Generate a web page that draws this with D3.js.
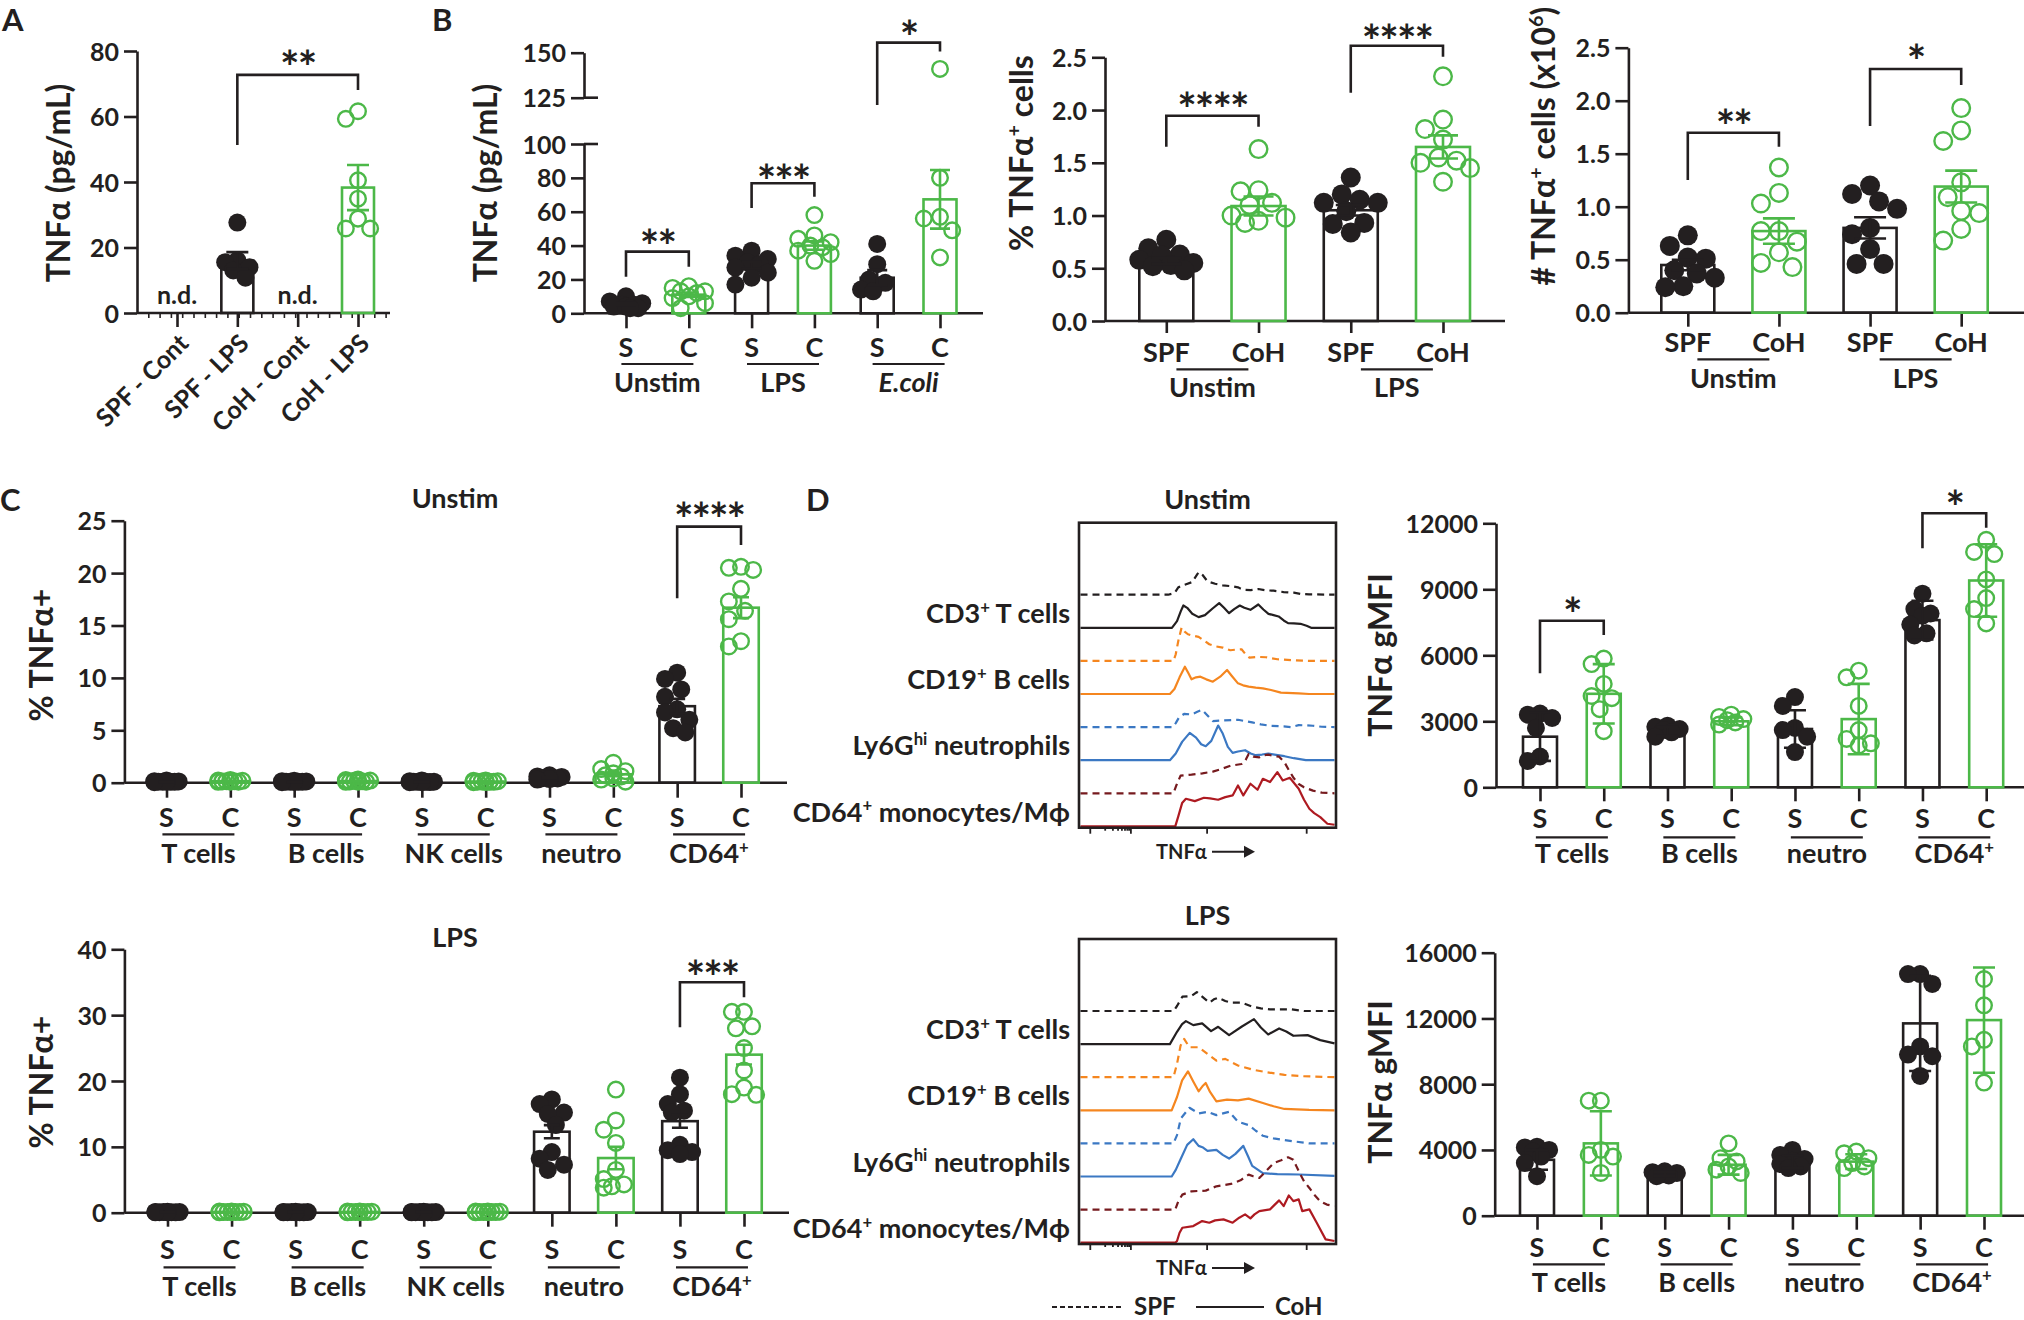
<!DOCTYPE html>
<html>
<head>
<meta charset="utf-8">
<script src="https://cdn.jsdelivr.net/npm/d3@7"></script>
<style>
  html, body { margin:0; padding:0; background:#fff; }
  svg { display:block; }
  text { font-family: Lato, "Liberation Sans", Arial, sans-serif; font-weight:700; fill:#231f20; }
</style>
</head>
<body>
<svg id="fig" width="2024" height="1320" viewBox="0 0 2024 1320"></svg>
<script>
// ================= DATA =================
// Panel A : TNFa (pg/mL)
const aCategories = ["SPF - Cont", "SPF - LPS", "CoH - Cont", "CoH - LPS"];
const aKind = ["S", "S", "C", "C"];
const aPoints = [[], [27.6, 16.1, 15.5, 14.0, 13.0, 10.8], [], [61.6, 59.3, 40.5, 34.9, 28.8, 25.8, 25.8]];
const aMean = [null, 16.0, null, 38.3];
const aErr = [null, 2.6, null, 6.9];
const aNotes = ["n.d.", "", "n.d.", ""];
const aTicks = [0, 20, 40, 60, 80];

// Panel B1 : TNFa (pg/mL), broken axis
const b1Labels = ["S", "C", "S", "C", "S", "C"];
const b1Groups = ["Unstim", "LPS", "E.coli"];
const b1Points = [
  [10, 7, 6, 5, 5, 4, 4, 3, 3],
  [16, 15, 13, 13, 12, 10, 9, 6, 3],
  [37, 34, 32, 30, 29, 27, 24, 21, 17],
  [58, 46, 44, 42, 40, 39, 37, 35, 31],
  [41, 29, 20, 18, 14, 13],
  [141, 80, 57, 56, 49, 33]
];
const b1Mean = [5.5, 11, 28.5, 40, 21, 67.3];
const b1Err = [0.8, 1.3, 2.0, 2.5, 4.5, 17.3];
const b1TicksLow = [0, 20, 40, 60, 80, 100];
const b1TicksHigh = [125, 150];

// Panel B2 : % TNFa+ cells
const b2Labels = ["SPF", "CoH", "SPF", "CoH"];
const b2Groups = ["Unstim", "LPS"];
const b2Points = [
  [0.77, 0.69, 0.63, 0.62, 0.58, 0.55, 0.53, 0.52, 0.48],
  [1.63, 1.24, 1.23, 1.12, 1.10, 1.00, 0.98, 0.95, 0.93],
  [1.36, 1.20, 1.15, 1.12, 1.12, 1.04, 0.93, 0.92, 0.84],
  [2.32, 1.91, 1.82, 1.72, 1.55, 1.52, 1.50, 1.45, 1.32]
];
const b2Mean = [0.57, 1.09, 1.05, 1.65];
const b2Err = [0.03, 0.09, 0.05, 0.11];
const b2Ticks = [0, 0.5, 1.0, 1.5, 2.0, 2.5];

// Panel B3 : # TNFa+ cells (x10^6)
const b3Labels = ["SPF", "CoH", "SPF", "CoH"];
const b3Groups = ["Unstim", "LPS"];
const b3Points = [
  [0.73, 0.63, 0.52, 0.51, 0.40, 0.37, 0.33, 0.25, 0.24],
  [1.37, 1.13, 1.03, 0.77, 0.77, 0.67, 0.57, 0.47, 0.43],
  [1.20, 1.12, 1.05, 0.98, 0.80, 0.74, 0.60, 0.46, 0.46],
  [1.93, 1.72, 1.62, 1.23, 1.09, 0.96, 0.94, 0.79, 0.68]
];
const b3Mean = [0.45, 0.77, 0.80, 1.19];
const b3Err = [0.05, 0.12, 0.10, 0.15];
const b3Ticks = [0, 0.5, 1.0, 1.5, 2.0, 2.5];

// Panel C : % TNFa+ by cell type
const cLabels = ["S", "C", "S", "C", "S", "C", "S", "C", "S", "C"];
const cGroups = ["T cells", "B cells", "NK cells", "neutro", "CD64+"];
const cUnPoints = [
  [0.2, 0.15, 0.12, 0.1, 0.1, 0.1, 0.08, 0.08, 0.05],
  [0.25, 0.2, 0.18, 0.15, 0.15, 0.12, 0.1, 0.1, 0.08],
  [0.18, 0.15, 0.12, 0.1, 0.1, 0.09, 0.08, 0.07, 0.05],
  [0.3, 0.25, 0.2, 0.18, 0.15, 0.12, 0.1, 0.1, 0.08],
  [0.2, 0.15, 0.1, 0.1, 0.08, 0.08, 0.06, 0.05, 0.05],
  [0.2, 0.18, 0.15, 0.12, 0.1, 0.1, 0.08, 0.06, 0.05],
  [0.7, 0.6, 0.55, 0.5, 0.45, 0.4, 0.4, 0.35, 0.3],
  [1.9, 1.3, 1.1, 0.9, 0.7, 0.6, 0.4, 0.3, 0.1],
  [10.5, 9.9, 8.9, 8.2, 7.0, 6.7, 6.0, 5.2, 4.8],
  [20.6, 20.5, 20.3, 18.5, 17.3, 16.4, 15.6, 13.5, 13.0]
];
const cUnMean = [0.1, 0.15, 0.1, 0.16, 0.1, 0.11, 0.47, 0.8, 7.3, 16.7];
const cUnErr = [0.02, 0.02, 0.02, 0.02, 0.02, 0.02, 0.04, 0.18, 0.7, 1.0];
const cUnTicks = [0, 5, 10, 15, 20, 25];

const cLpPoints = [
  [0.15, 0.12, 0.1, 0.1, 0.08, 0.08, 0.06, 0.05, 0.05],
  [0.2, 0.18, 0.15, 0.12, 0.12, 0.1, 0.1, 0.08, 0.05],
  [0.15, 0.12, 0.1, 0.1, 0.08, 0.08, 0.06, 0.05, 0.05],
  [0.2, 0.18, 0.15, 0.12, 0.12, 0.1, 0.1, 0.08, 0.05],
  [0.15, 0.12, 0.1, 0.1, 0.08, 0.08, 0.06, 0.05, 0.05],
  [0.2, 0.18, 0.15, 0.12, 0.12, 0.1, 0.1, 0.08, 0.05],
  [17.2, 16.5, 15.2, 15.0, 13.3, 9.2, 8.2, 7.3, 6.5],
  [18.7, 14.0, 12.6, 10.6, 6.5, 5.1, 4.3, 4.0, 3.8],
  [20.5, 18.0, 16.5, 15.5, 15.2, 10.3, 9.5, 9.2, 8.9],
  [30.5, 30.5, 28.3, 28.0, 25.0, 21.6, 19.0, 18.0, 17.9]
];
const cLpMean = [0.09, 0.12, 0.09, 0.12, 0.09, 0.12, 12.3, 8.3, 13.9, 24.0];
const cLpErr = [0.01, 0.02, 0.01, 0.02, 0.01, 0.02, 1.0, 1.7, 1.0, 1.5];
const cLpTicks = [0, 10, 20, 30, 40];

// Panel D : TNFa gMFI
const dLabels = ["S", "C", "S", "C", "S", "C", "S", "C"];
const dGroups = ["T cells", "B cells", "neutro", "CD64+"];
const dUnPoints = [
  [3350, 3300, 3150, 2700, 1400, 1200],
  [5850, 5600, 4700, 4150, 4050, 3550, 2550],
  [2800, 2750, 2650, 2600, 2500, 2300],
  [3300, 3200, 3100, 3050, 2950, 2850],
  [4100, 3700, 2700, 2600, 2300, 1600],
  [5300, 5000, 3700, 2600, 2200, 2000, 1900],
  [8800, 8100, 7900, 7800, 7400, 7000, 6900],
  [11250, 10700, 10600, 9450, 8600, 8100, 7450]
];
const dUnMean = [2300, 4250, 2550, 3000, 2650, 3100, 7600, 9400];
const dUnErr = [1100, 1350, 200, 180, 850, 1600, 880, 1650];
const dUnTicks = [0, 3000, 6000, 9000, 12000];

const dLpPoints = [
  [4200, 4150, 4000, 3900, 3600, 3200, 2400],
  [7000, 7000, 4000, 3700, 3600, 2600],
  [2700, 2650, 2600, 2500, 2450, 2400],
  [4400, 3500, 3300, 3000, 2800, 2600],
  [4000, 3700, 3450, 3350, 3150, 3000, 2900],
  [3900, 3800, 3500, 3200, 3000, 2900],
  [14700, 14700, 14100, 10300, 9800, 9700, 8500],
  [14400, 12800, 10700, 10300, 8100]
];
const dLpMean = [3400, 4400, 2530, 3100, 3280, 3290, 11700, 11900];
const dLpErr = [600, 1950, 120, 600, 380, 450, 2900, 3200];
const dLpTicks = [0, 4000, 8000, 12000, 16000];

// Histograms (x: TNFa channel 0-100, y: relative count)
const histRows = ["CD3+ T cells", "CD19+ B cells", "Ly6Ghi neutrophils", "CD64+ monocytes/Mϕ"];
const hUnT_S = [[0,0],[34.5,0],[37,5],[38.5,22],[41,30],[44,38],[46,62],[46.8,68],[48,60],[50,40],[53,33],[56,28],[60,25],[62,22],[64,15],[67,14],[70,17],[73,13],[76,12],[80,8],[84,6],[87,2],[90,1],[100,0]];
const hUnT_C = [[0,0],[36,0],[38,20],[39.5,50],[40.5,67],[42,60],[44,42],[46.5,32],[49,38],[52,58],[54.6,74],[56.5,60],[58.5,44],[60.5,56],[62.7,67],[64.5,60],[66.9,54],[70,70],[72,55],[74,42],[76,38],[78,34],[80,22],[81.7,14],[84,13],[86.6,12],[89,6],[90.8,0],[100,0]];
const hUnB_S = [[0,0],[36.6,0],[37.5,20],[38.5,60],[39.8,100],[41,88],[42.3,80],[44,76],[46.5,72],[48.5,62],[50.7,50],[53,44],[56,40],[59,32],[61.5,34],[63.4,35],[65,20],[66.5,10],[70,12],[73,11],[77.5,5],[83,2],[90,0],[100,0]];
const hUnB_C = [[0,0],[35.2,0],[37,15],[39,50],[41.1,82],[42.5,62],[43.7,44],[45.5,50],[47.2,52],[49.5,44],[52.1,37],[55,52],[57.7,72],[59.5,55],[62,32],[64,26],[66.2,22],[69,19],[71.8,17],[75,12],[78.9,4],[85.9,2],[90,0],[100,0]];
const hUnN_S = [[0,0],[36.3,0],[37.5,12],[38.7,28],[40.8,40],[43.7,38],[46,46],[47.9,52],[50,35],[52.1,18],[56.3,20],[62,22],[67.6,14],[71,8],[74.6,4],[80,2],[83,0],[85.9,6],[89,5],[91.5,4],[95,1],[100,0]];
const hUnN_C = [[0,0],[35.2,0],[37.5,20],[40,55],[43,82],[45.5,68],[47.5,48],[49.3,42],[51.5,58],[54.2,104],[56,80],[58,40],[59.9,22],[62,26],[64.8,30],[67,20],[69,15],[71.5,17],[73.9,20],[77,16],[80.3,12],[84,6],[88.7,0],[100,0]];
const hUnM_S = [[0,0],[36.6,0],[37.8,25],[39.4,53],[43.7,56],[48,60],[52.1,65],[55,72],[59.2,83],[63.4,88],[65,100],[66.2,118],[68,110],[70.4,108],[72,114],[74,116],[76,112],[78.2,110],[80.3,93],[82,70],[84,45],[85.9,28],[88,18],[91.5,8],[95,2],[100,0]];
const hUnM_C = [[0,0],[37.3,0],[38.5,30],[40,70],[41.5,83],[45,76],[48.6,86],[51,84],[54.2,80],[57,88],[59.9,93],[62,123],[64.1,93],[66.9,128],[69.7,110],[71.8,143],[74.6,133],[77.5,163],[79.6,138],[82.4,146],[85.9,113],[88,80],[90.1,53],[92,40],[94.4,28],[97.2,8],[100,5]];
const hLpT_S = [[0,0],[36.6,0],[38,15],[40.1,43],[43.7,45],[45.8,57],[47.9,43],[50.7,25],[52.5,35],[54.2,40],[57,30],[59.2,25],[63.4,25],[67.6,13],[71,8],[74.6,5],[80,5],[83,5],[88,0],[100,0]];
const hLpT_C = [[0,0],[35.2,0],[38,37],[40,60],[41.5,69],[44.4,57],[47.9,62],[51.4,39],[54.2,52],[58.5,27],[63.4,52],[68.3,75],[71,50],[73.9,29],[78.2,47],[81,38],[83.8,25],[89.4,27],[94.4,12],[100,2]];
const hLpB_S = [[0,0],[36.6,0],[38,40],[39.4,95],[40.8,115],[42.9,90],[46.5,90],[50,70],[53.5,50],[57,55],[62,35],[67.6,23],[73.2,15],[80.3,7],[87.3,3],[100,0]];
const hLpB_C = [[0,0],[35.9,0],[38,40],[40,90],[42.3,117],[44.5,85],[46.5,57],[48,72],[49.3,82],[51,55],[53.5,27],[57.7,32],[62,30],[66.2,35],[71.8,22],[76,12],[80.3,4],[90,1],[100,0]];
const hLpN_S = [[0,0],[36.6,0],[38,25],[39.5,75],[42.9,107],[46.5,90],[50,95],[53.5,85],[58.5,95],[62,65],[66.2,55],[69,38],[71.8,23],[76,15],[80.3,10],[85,5],[90.1,0],[100,0]];
const hLpN_C = [[0,0],[35.9,0],[37.5,20],[39.4,52],[42,95],[44.4,112],[46.5,92],[48,88],[50,77],[53.5,80],[56,65],[58.5,54],[61,68],[64.1,92],[66,60],[67.6,32],[71.8,10],[77.5,7],[85.9,6],[100,2]];
const hLpM_S = [[0,0],[37.3,0],[38.5,25],[40.1,45],[43.7,55],[49.3,57],[53.5,70],[59.2,77],[63,88],[66.2,105],[68,100],[70.4,95],[73,115],[76.1,140],[79,148],[81.7,157],[83.8,150],[85,130],[86.6,105],[88,85],[90.1,65],[92,45],[94.4,25],[97,15],[100,10]];
const hLpM_C = [[0,0],[37.3,0],[38,5],[39,30],[40.1,45],[44.4,50],[47.9,65],[50.7,60],[53,67],[56.3,70],[59.9,60],[62.5,75],[64.8,85],[66.9,73],[68.5,85],[70.4,95],[74.6,100],[78.2,127],[80,110],[82,142],[83.8,125],[85.9,130],[87.3,95],[90.1,100],[93,60],[96.5,10],[100,5]];

// ================= DRAWING =================
const svg = d3.select("#fig");
const BLACK = "#231f20", GREEN = "#4cb848";
const ORANGE = "#f5861f", BLUE = "#3b78c3", MAROON = "#761a1e", CRIMSON = "#ae1a21";
const SW = 2.6;

function rich(g, parts, fs, attrs) {
  const t = g.append("text").attr("font-size", fs);
  Object.entries(attrs).forEach(([k, v]) => t.attr(k, v));
  let sup = false;
  parts.forEach(([s, isSup]) => {
    const sp = t.append("tspan").text(s);
    if (isSup) { sp.attr("font-size", fs * 0.62); if (!sup) sp.attr("dy", -fs * 0.38); }
    else if (sup) sp.attr("dy", fs * 0.38);
    sup = !!isSup;
  });
  return t;
}
function splitSup(label) {
  if (label.endsWith("+")) return [[label.slice(0, -1)], ["+", true]];
  return [[label]];
}

// GraphPad-like scatter: overlap-free where possible, otherwise spread evenly
function swarm(vals, y, r, maxOff) {
  const step = Math.max(2, r * 0.45);
  const items = vals.map(v => ({ v, py: y(v), dx: 0 }));
  const order = items.slice().sort((a, b) => a.py - b.py);
  const cands = [0];
  for (let k = 1; k * step <= maxOff + 0.01; k++) cands.push(-k * step, k * step);
  const minD = 2 * r * 0.9;
  const placed = [];
  order.forEach(p => {
    let chosen = null, best = 0, bestScore = Infinity;
    for (const c of cands) {
      let mx = 0;
      placed.forEach(q => { const d = Math.hypot(c - q.dx, p.py - q.py); if (d < minD) mx = Math.max(mx, minD - d); });
      if (mx === 0) { chosen = c; break; }
      const score = mx + Math.abs(c) * 0.001;
      if (score < bestScore) { bestScore = score; best = c; }
    }
    p.dx = chosen !== null ? chosen : best;
    placed.push(p);
  });
  return items;
}

function yAxis(g, scale, ticks, x, fmt) {
  const a = g.append("g").attr("transform", `translate(${x},0)`)
    .call(d3.axisLeft(scale).tickValues(ticks).tickSize(13).tickPadding(5).tickSizeOuter(0).tickFormat(fmt));
  a.select(".domain").attr("stroke", BLACK).attr("stroke-width", SW);
  a.selectAll(".tick line").attr("stroke", BLACK).attr("stroke-width", SW);
  a.selectAll(".tick text").attr("font-size", 25).attr("dy", "0.36em");
  return a;
}

function barPanel(o) {
  const g = svg.append("g");
  const y = o.y, y0 = y(0);
  const x = d3.scalePoint().domain(d3.range(o.n)).range(o.xRange);
  const col = i => o.kind[i] === "S" ? BLACK : GREEN;
  // axes
  o.drawY(g);
  g.append("line").attr("x1", o.axisX).attr("x2", o.axisEnd).attr("y1", y0).attr("y2", y0)
    .attr("stroke", BLACK).attr("stroke-width", SW);
  const xa = g.append("g").attr("transform", `translate(0,${y0})`)
    .call(d3.axisBottom(x).tickSize(o.tickLen).tickSizeOuter(0).tickFormat(""));
  xa.select(".domain").remove();
  xa.selectAll(".tick line").attr("stroke", BLACK).attr("stroke-width", SW);
  if (o.minorStep) {
    const vals = [];
    for (let v = o.axisX + o.minorStep; v < o.axisEnd - 2; v += o.minorStep) vals.push(v);
    const lin = d3.scaleLinear().domain([0, 1]).range([0, 1]);
    const mg = g.append("g").attr("transform", `translate(0,${y0})`)
      .call(d3.axisBottom(d3.scaleIdentity()).tickValues(vals).tickSize(5).tickSizeOuter(0).tickFormat(""));
    mg.select(".domain").remove();
    mg.selectAll(".tick line").attr("stroke", BLACK).attr("stroke-width", 1.6);
  }
  // bars
  const withBar = d3.range(o.n).filter(i => o.mean[i] != null);
  g.selectAll(null).data(withBar).join("rect")
    .attr("x", i => x(i) - o.barW / 2).attr("y", i => y(o.mean[i]))
    .attr("width", o.barW).attr("height", i => y0 - y(o.mean[i]))
    .attr("fill", "none").attr("stroke", col).attr("stroke-width", SW);
  // points
  d3.range(o.n).forEach(i => {
    const pts = swarm(o.points[i], y, o.r, o.maxOff);
    const S = o.kind[i] === "S";
    g.selectAll(null).data(pts).join("circle")
      .attr("cx", p => x(i) + p.dx).attr("cy", p => p.py)
      .attr("r", S ? o.r : o.r - 1.2)
      .attr("fill", S ? BLACK : "none")
      .attr("stroke", S ? "none" : GREEN).attr("stroke-width", 2.4);
  });
  // error bars
  withBar.forEach(i => {
    const cx = x(i), yt = y(o.mean[i] + o.err[i]), yb = y(o.mean[i] - o.err[i]);
    const p = d3.path();
    p.moveTo(cx, yt); p.lineTo(cx, yb);
    p.moveTo(cx - o.cap, yt); p.lineTo(cx + o.cap, yt);
    p.moveTo(cx - o.cap, yb); p.lineTo(cx + o.cap, yb);
    g.append("path").attr("d", p.toString()).attr("fill", "none").attr("stroke", col(i)).attr("stroke-width", SW);
  });
  // category labels
  o.labels.forEach((lab, i) => {
    if (o.rotate) {
      g.append("text").attr("font-size", 25).attr("text-anchor", "end")
        .attr("transform", `translate(${x(i) + 13},${o.labelBase}) rotate(-45)`).text(lab);
    } else {
      g.append("text").attr("font-size", 27).attr("text-anchor", "middle")
        .attr("x", x(i)).attr("y", o.labelBase).text(lab);
    }
  });
  if (o.notes) o.notes.forEach((s, i) => {
    if (s) g.append("text").attr("font-size", 25).attr("text-anchor", "middle").attr("x", x(i)).attr("y", o.noteBase).text(s);
  });
  // groups
  if (o.groups) o.groups.forEach((lab, k) => {
    const c = (x(2 * k) + x(2 * k + 1)) / 2;
    g.append("line").attr("x1", c - 36).attr("x2", c + 36).attr("y1", o.ulY).attr("y2", o.ulY)
      .attr("stroke", BLACK).attr("stroke-width", 2.2);
    const t = rich(g, splitSup(lab), 27, { x: c, y: o.groupBase, "text-anchor": "middle" });
    if (o.italicGroups && o.italicGroups.includes(lab)) t.attr("font-style", "italic");
  });
  // significance
  (o.sig || []).forEach(s => {
    const xa_ = x(s.a), xb_ = x(s.b);
    const p = d3.path();
    p.moveTo(xa_, y(s.left)); p.lineTo(xa_, y(s.top)); p.lineTo(xb_, y(s.top)); p.lineTo(xb_, y(s.right));
    g.append("path").attr("d", p.toString()).attr("fill", "none").attr("stroke", BLACK).attr("stroke-width", SW);
    g.append("text").attr("font-size", 46).attr("text-anchor", "middle")
      .attr("x", (xa_ + xb_) / 2).attr("y", y(s.star) + 26).attr("letter-spacing", -2).text(s.text);
  });
  // titles
  if (o.title) rich(g, o.title, 32, { "text-anchor": "middle", transform: `translate(${o.titlePos[0]},${o.titlePos[1]}) rotate(-90)` });
  if (o.header) g.append("text").attr("font-size", 27).attr("text-anchor", "middle").attr("x", o.header[1]).attr("y", o.header[2]).text(o.header[0]);
  return g;
}

// ---------- panel letters ----------
[["A", 2, 31], ["B", 432, 31], ["C", 0, 511], ["D", 806, 511]].forEach(([s, x, y]) =>
  svg.append("text").attr("font-size", 31).attr("x", x).attr("y", y).text(s));

// ---------- Panel A ----------
{
  const y = d3.scaleLinear().domain([0, 80]).range([313, 51]);
  barPanel({
    n: 4, kind: aKind, points: aPoints, mean: aMean, err: aErr, y,
    drawY: g => yAxis(g, y, aTicks, 137, d3.format("d")),
    axisX: 137, axisEnd: 390, xRange: [177, 358], tickLen: 14, minorStep: 11.3, barW: 32, r: 9, maxOff: 16, cap: 11,
    labels: aCategories, rotate: true, labelBase: 345,
    notes: aNotes, noteBase: 304,
    sig: [{ a: 1, b: 3, top: 72.7, left: 51.3, right: 68.1, star: 77.9, text: "**" }],
    title: [["TNFα (pg/mL)"]], titlePos: [70, 183]
  });
}

// ---------- Panel B1 ----------
{
  const yLow = d3.scaleLinear().domain([0, 100]).range([313.3, 144]);
  const yHigh = d3.scaleLinear().domain([125, 150]).range([97.7, 52.7]);
  const y = v => v > 110 ? yHigh(v) : yLow(v);
  const AX = 584;
  barPanel({
    n: 6, kind: ["S", "C", "S", "C", "S", "C"], points: b1Points, mean: b1Mean, err: b1Err, y,
    drawY: g => {
      yAxis(g, yLow, b1TicksLow, AX, d3.format("d"));
      yAxis(g, yHigh, b1TicksHigh, AX, d3.format("d"));
      [yLow(100), yHigh(125)].forEach(yy => g.append("line").attr("x1", AX).attr("x2", AX + 14)
        .attr("y1", yy).attr("y2", yy).attr("stroke", BLACK).attr("stroke-width", SW));
    },
    axisX: AX, axisEnd: 983, xRange: [626, 940], tickLen: 15, barW: 33, r: 9, maxOff: 20, cap: 10,
    labels: b1Labels, labelBase: 357, groups: b1Groups, italicGroups: ["E.coli"], ulY: 364, groupBase: 392,
    sig: [
      { a: 0, b: 1, top: 36.4, left: 21.6, right: 27.5, star: 45.1, text: "**" },
      { a: 2, b: 3, top: 76.8, left: 62.2, right: 68.9, star: 83.6, text: "***" },
      { a: 4, b: 5, top: 155.6, left: 120.9, right: 150.6, star: 163.7, text: "*" }
    ],
    title: [["TNFα (pg/mL)"]], titlePos: [497, 183]
  });
}

// ---------- Panel B2 ----------
{
  const y = d3.scaleLinear().domain([0, 2.5]).range([321, 57.3]);
  barPanel({
    n: 4, kind: ["S", "C", "S", "C"], points: b2Points, mean: b2Mean, err: b2Err, y,
    drawY: g => yAxis(g, y, b2Ticks, 1105, d3.format(".1f")),
    axisX: 1105, axisEnd: 1505, xRange: [1166.3, 1443], tickLen: 12, barW: 54, r: 10, maxOff: 28, cap: 15,
    labels: b2Labels, labelBase: 361.7, groups: b2Groups, ulY: 369.3, groupBase: 396.7,
    sig: [
      { a: 0, b: 1, top: 1.946, left: 1.652, right: 1.842, star: 2.095, text: "****" },
      { a: 2, b: 3, top: 2.61, left: 2.164, right: 2.506, star: 2.743, text: "****" }
    ],
    title: [["% TNFα"], ["+", true], [" cells"]], titlePos: [1033, 153]
  });
}

// ---------- Panel B3 ----------
{
  const y = d3.scaleLinear().domain([0, 2.5]).range([312.7, 47.7]);
  barPanel({
    n: 4, kind: ["S", "C", "S", "C"], points: b3Points, mean: b3Mean, err: b3Err, y,
    drawY: g => yAxis(g, y, b3Ticks, 1628.4, d3.format(".1f")),
    axisX: 1628.4, axisEnd: 2024, xRange: [1687.8, 1961.2], tickLen: 14, barW: 53, r: 10, maxOff: 30, cap: 16,
    labels: b3Labels, labelBase: 351.7, groups: b3Groups, ulY: 359.3, groupBase: 388,
    sig: [
      { a: 0, b: 1, top: 1.698, left: 1.252, right: 1.566, star: 1.849, text: "**" },
      { a: 2, b: 3, top: 2.299, left: 1.761, right: 2.148, star: 2.462, text: "*" }
    ],
    title: [["# TNFα"], ["+", true], [" cells (x10"], ["6", true], [")"]], titlePos: [1555, 146]
  });
}

// ---------- Panel C Unstim ----------
{
  const y = d3.scaleLinear().domain([0, 25]).range([782.7, 520.7]);
  barPanel({
    n: 10, kind: cLabels, points: cUnPoints, mean: cUnMean, err: cUnErr, y,
    drawY: g => yAxis(g, y, cUnTicks, 124.4, d3.format("d")),
    axisX: 124.4, axisEnd: 787, xRange: [166.5, 741], tickLen: 15, barW: 35.5, r: 9, maxOff: 13, cap: 8,
    labels: cLabels, labelBase: 826.7, groups: cGroups, ulY: 834.3, groupBase: 863,
    sig: [{ a: 8, b: 9, top: 24.43, left: 17.6, right: 22.68, star: 26.02, text: "****" }],
    title: [["% TNFα+"]], titlePos: [53, 655], header: ["Unstim", 455, 508]
  });
}

// ---------- Panel C LPS ----------
{
  const y = d3.scaleLinear().domain([0, 40]).range([1212.7, 949.3]);
  barPanel({
    n: 10, kind: cLabels, points: cLpPoints, mean: cLpMean, err: cLpErr, y,
    drawY: g => yAxis(g, y, cLpTicks, 124.4, d3.format("d")),
    axisX: 124.4, axisEnd: 789, xRange: [167.5, 744], tickLen: 14, barW: 35.5, r: 9, maxOff: 13, cap: 8,
    labels: cLabels, labelBase: 1259, groups: cGroups, ulY: 1267.3, groupBase: 1296,
    sig: [{ a: 8, b: 9, top: 34.99, left: 28.15, right: 32.71, star: 37.2, text: "***" }],
    title: [["% TNFα+"]], titlePos: [53, 1082], header: ["LPS", 455, 946.7]
  });
}

// ---------- Panel D gMFI top ----------
{
  const y = d3.scaleLinear().domain([0, 12000]).range([787.3, 523.3]);
  barPanel({
    n: 8, kind: dLabels, points: dUnPoints, mean: dUnMean, err: dUnErr, y,
    drawY: g => yAxis(g, y, dUnTicks, 1496, d3.format("d")),
    axisX: 1496, axisEnd: 2024, xRange: [1540, 1986.2], tickLen: 14, barW: 34, r: 9, maxOff: 16, cap: 11,
    labels: dLabels, labelBase: 828.3, groups: dGroups, ulY: 837.3, groupBase: 863,
    sig: [
      { a: 0, b: 1, top: 7573, left: 5182, right: 6923, star: 8286, text: "*" },
      { a: 6, b: 7, top: 12455, left: 10864, right: 11800, star: 13136, text: "*" }
    ],
    title: [["TNFα gMFI"]], titlePos: [1392, 655]
  });
}

// ---------- Panel D gMFI bottom ----------
{
  const y = d3.scaleLinear().domain([0, 16000]).range([1215.7, 952.7]);
  barPanel({
    n: 8, kind: dLabels, points: dLpPoints, mean: dLpMean, err: dLpErr, y,
    drawY: g => yAxis(g, y, dLpTicks, 1494.7, d3.format("d")),
    axisX: 1494.7, axisEnd: 2024, xRange: [1537, 1984], tickLen: 14, barW: 34, r: 9, maxOff: 16, cap: 11,
    labels: dLabels, labelBase: 1256.7, groups: dGroups, ulY: 1264.3, groupBase: 1291.7,
    title: [["TNFα gMFI"]], titlePos: [1392, 1082]
  });
}

// ---------- Histograms ----------
function histPanel(o) {
  const g = svg.append("g");
  const x0 = 1079, x1 = 1336, top = o.top, H = 305;
  const xH = d3.scaleLinear().domain([0, 100]).range([x0 + 1.5, x1 - 1.5]);
  const hH = d3.scaleLinear().domain([0, 100]).range([0, 33.3]);
  const offs = d3.range(8).map(i => 72 + i * 33.1);
  const colors = [BLACK, BLACK, ORANGE, ORANGE, BLUE, BLUE, MAROON, CRIMSON];
  o.curves.forEach((c, i) => {
    const base = top + offs[i];
    g.append("path").datum(c)
      .attr("d", d3.line().x(d => xH(d[0])).y(d => base - hH(d[1])))
      .attr("fill", "none").attr("stroke", colors[i]).attr("stroke-width", 2.2)
      .attr("stroke-linejoin", "round")
      .attr("stroke-dasharray", i % 2 === 0 ? "7,5" : null);
  });
  g.append("rect").attr("x", x0).attr("y", top).attr("width", x1 - x0).attr("height", H)
    .attr("fill", "none").attr("stroke", BLACK).attr("stroke-width", SW);
  const tx = d3.scaleLinear().domain([0, 1]).range([x0, x1]);
  const major = g.append("g").attr("transform", `translate(0,${top + H})`)
    .call(d3.axisBottom(tx).tickValues([0.042, 0.2, 0.4965, 0.884]).tickSize(6).tickFormat("").tickSizeOuter(0));
  const minor = g.append("g").attr("transform", `translate(0,${top + H})`)
    .call(d3.axisBottom(tx).tickValues([0.1, 0.13, 0.15, 0.165, 0.177, 0.186, 0.193]).tickSize(3).tickFormat("").tickSizeOuter(0));
  [major, minor].forEach(a => { a.select(".domain").remove(); a.selectAll(".tick line").attr("stroke", BLACK).attr("stroke-width", 1.8); });
  g.append("text").attr("font-size", 27).attr("text-anchor", "middle").attr("x", (x0 + x1) / 2).attr("y", top - 14).text(o.title);
  const labParts = [
    [["CD3"], ["+", true], [" T cells"]],
    [["CD19"], ["+", true], [" B cells"]],
    [["Ly6G"], ["hi", true], [" neutrophils"]],
    [["CD64"], ["+", true], [" monocytes/Mϕ"]]
  ];
  labParts.forEach((parts, k) => {
    const c = top + (offs[2 * k] + offs[2 * k + 1]) / 2 + 2;
    rich(g, parts, 27, { x: 1070, y: c + 9.7, "text-anchor": "end" });
  });
  const ay = top + H + 24;
  g.append("text").attr("font-size", 20).attr("x", 1156).attr("y", ay + 7).text("TNFα");
  g.append("line").attr("x1", 1212).attr("x2", 1246).attr("y1", ay).attr("y2", ay).attr("stroke", BLACK).attr("stroke-width", 2);
  g.append("path").attr("d", `M1244,${ay - 6}L1255,${ay}L1244,${ay + 6}Z`).attr("fill", BLACK);
  return g;
}
histPanel({ title: "Unstim", top: 522.7, curves: [hUnT_S, hUnT_C, hUnB_S, hUnB_C, hUnN_S, hUnN_C, hUnM_S, hUnM_C] });
histPanel({ title: "LPS", top: 939, curves: [hLpT_S, hLpT_C, hLpB_S, hLpB_C, hLpN_S, hLpN_C, hLpM_S, hLpM_C] });

// legend
{
  const g = svg.append("g");
  const ly = 1307;
  g.append("line").attr("x1", 1052).attr("x2", 1124).attr("y1", ly).attr("y2", ly).attr("stroke", BLACK).attr("stroke-width", 1.8).attr("stroke-dasharray", "5,3");
  g.append("text").attr("font-size", 24).attr("x", 1134).attr("y", ly + 8).text("SPF");
  g.append("line").attr("x1", 1196).attr("x2", 1264).attr("y1", ly).attr("y2", ly).attr("stroke", BLACK).attr("stroke-width", 1.8);
  g.append("text").attr("font-size", 24).attr("x", 1275).attr("y", ly + 8).text("CoH");
}
</script>
</body>
</html>
